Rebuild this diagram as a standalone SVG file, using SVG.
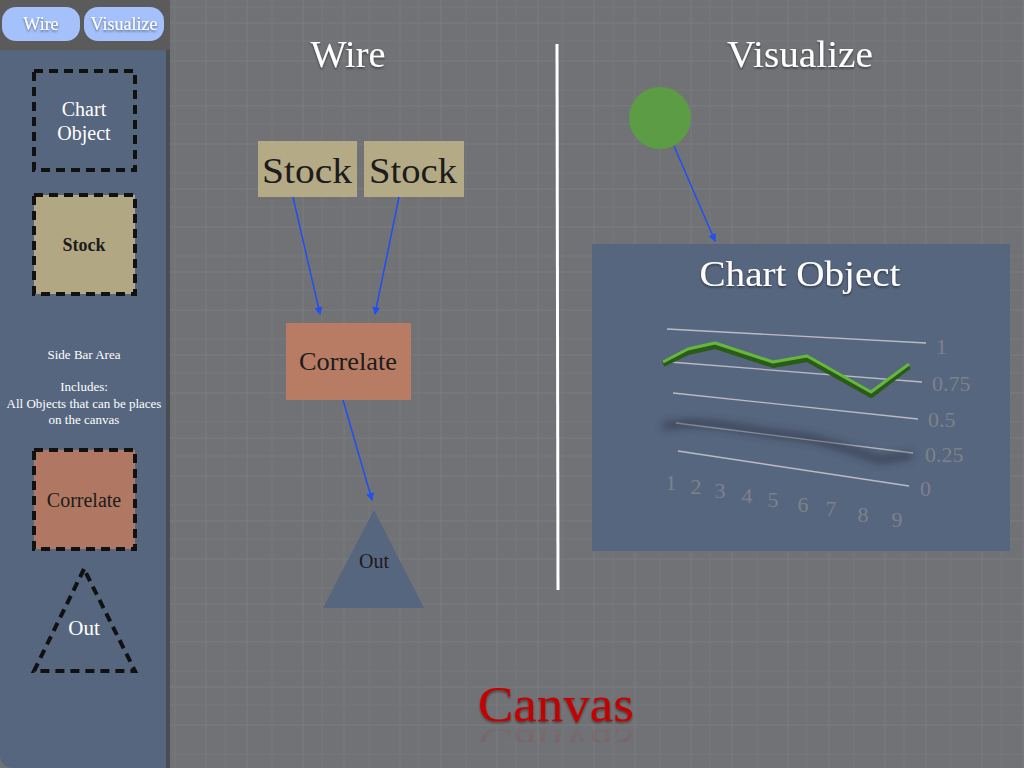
<svg xmlns="http://www.w3.org/2000/svg" width="1024" height="768" viewBox="0 0 1024 768">
<defs>
<style>
.serif{font-family:"Liberation Serif","DejaVu Serif",serif;}
.white{fill:#ffffff;}
.dark{fill:#1c1c1c;}
.dash{stroke:#111111;stroke-width:4;stroke-dasharray:9,6;}
.conn{stroke:#1f4ff5;stroke-width:1.5;fill:none;marker-end:url(#arr);}
.grid{stroke:#b8bcc2;stroke-width:1.3;}
.axis{fill:#7d8289;font-size:22px;}
</style>
<marker id="arr" markerWidth="8" markerHeight="8" refX="7" refY="4" orient="auto" markerUnits="userSpaceOnUse">
<path d="M0,0 L8,4 L0,8 z" fill="#1f4ff5"/>
</marker>
<filter id="ts" x="-10%" y="-10%" width="120%" height="140%">
<feDropShadow dx="0" dy="1.5" stdDeviation="1.2" flood-color="#000" flood-opacity="0.5"/>
</filter>
<filter id="blur" x="-20%" y="-50%" width="140%" height="200%">
<feGaussianBlur stdDeviation="4"/>
</filter>
<linearGradient id="fade" x1="0" y1="0" x2="0" y2="1">
<stop offset="0" stop-color="#c00000" stop-opacity="0.4"/>
<stop offset="1" stop-color="#c00000" stop-opacity="0"/>
</linearGradient>
<clipPath id="reflclip"><rect x="400" y="726" width="300" height="16"/></clipPath>
<pattern id="tex" width="97" height="83" patternUnits="userSpaceOnUse">
<rect width="97" height="83" fill="#707275"/>
<path d="M12 0V83M53 0V83M0 23H97M0 61H97" stroke="#797b7e" stroke-width="1"/>
<path d="M31 0V83M78 0V83M0 41H97M0 7H97" stroke="#757779" stroke-width="1"/>
</pattern>
</defs>

<rect x="0" y="0" width="1024" height="768" fill="url(#tex)"/>

<g id="sidebar">
<rect x="0" y="0" width="170" height="50" fill="#5b5b5b"/>
<path d="M0 50 H166 V768 H14 Q0 768 0 754 Z" fill="#57667f"/>
<rect x="166" y="50" width="4" height="718" fill="#4a4d52"/>
</g>

<g id="btn-wire">
<rect x="2" y="7" width="78" height="34" rx="14" fill="#a5c1fb"/>
<text x="41" y="30" text-anchor="middle" class="serif white" font-size="18" filter="url(#ts)">Wire</text>
</g>
<g id="btn-visualize">
<rect x="84" y="7" width="80" height="34" rx="14" fill="#a5c1fb"/>
<text x="124" y="30" text-anchor="middle" class="serif white" font-size="18" filter="url(#ts)">Visualize</text>
</g>

<g id="side-chart-object">
<rect x="34" y="71" width="101" height="99" fill="none" class="dash"/>
<text x="84" y="116" text-anchor="middle" class="serif white" font-size="20">Chart</text>
<text x="84" y="140" text-anchor="middle" class="serif white" font-size="20">Object</text>
</g>
<g id="side-stock">
<rect x="34" y="195" width="101" height="99" fill="#b2a783" class="dash"/>
<text x="84" y="251" text-anchor="middle" class="serif dark" font-size="18" font-weight="bold">Stock</text>
</g>
<g id="side-text">
<text x="84" y="359" text-anchor="middle" class="serif white" font-size="13">Side Bar Area</text>
<text x="84" y="391" text-anchor="middle" class="serif white" font-size="13">Includes:</text>
<text x="84" y="408" text-anchor="middle" class="serif white" font-size="13">All Objects that can be places</text>
<text x="84" y="424" text-anchor="middle" class="serif white" font-size="13">on the canvas</text>
</g>
<g id="side-correlate">
<rect x="34" y="450" width="101" height="99" fill="#b07862" class="dash"/>
<text x="84" y="507" text-anchor="middle" class="serif dark" font-size="20">Correlate</text>
</g>
<g id="side-out">
<polygon points="84,569 34,671 135,671" fill="none" class="dash"/>
<text x="84" y="635" text-anchor="middle" class="serif white" font-size="21">Out</text>
</g>

<g id="titles">
<text x="348" y="67" text-anchor="middle" class="serif white" font-size="37" textLength="75" lengthAdjust="spacingAndGlyphs" filter="url(#ts)">Wire</text>
<text x="800" y="67" text-anchor="middle" class="serif white" font-size="37" textLength="146" lengthAdjust="spacingAndGlyphs" filter="url(#ts)">Visualize</text>
<line x1="557" y1="44" x2="558" y2="590" stroke="#ffffff" stroke-width="3"/>
</g>

<g id="stock1">
<rect x="258" y="141" width="99" height="56" fill="#b5aa86"/>
<text x="307" y="183" text-anchor="middle" class="serif dark" font-size="36" textLength="90" lengthAdjust="spacingAndGlyphs">Stock</text>
</g>
<g id="stock2">
<rect x="364" y="141" width="100" height="56" fill="#b5aa86"/>
<text x="413" y="183" text-anchor="middle" class="serif dark" font-size="36" textLength="88" lengthAdjust="spacingAndGlyphs">Stock</text>
</g>
<g id="correlate">
<rect x="286" y="323" width="125" height="77" fill="#b87b63"/>
<text x="348" y="370" text-anchor="middle" class="serif dark" font-size="25" textLength="98" lengthAdjust="spacingAndGlyphs">Correlate</text>
</g>
<g id="out">
<polygon points="374,510 323,608 424,608" fill="#57667f"/>
<text x="374" y="568" text-anchor="middle" class="serif dark" font-size="20">Out</text>
</g>

<g id="dot">
<circle cx="660" cy="118" r="31" fill="#5c9c44"/>
</g>

<g id="chart-object">
<rect x="592" y="244" width="418" height="307" fill="#57667f"/>
<text x="800" y="286" text-anchor="middle" class="serif white" font-size="36" textLength="201" lengthAdjust="spacingAndGlyphs" filter="url(#ts)">Chart Object</text>
<line x1="667" y1="329" x2="926" y2="343" class="grid"/>
<line x1="670" y1="362" x2="922" y2="382" class="grid"/>
<line x1="673" y1="393" x2="918" y2="419" class="grid"/>
<line x1="676" y1="423" x2="913" y2="453" class="grid"/>
<line x1="678" y1="451" x2="909" y2="486" class="grid"/>
<polyline points="663,426 690,423 720,425 770,433 810,438 845,448 880,460 912,455" fill="none" stroke="#2b3242" stroke-width="6" opacity="0.8" filter="url(#blur)"/>
<polyline points="663,364 688,352 715,346 773,365 807,359 871,395 909,366" fill="none" stroke="#2c5a18" stroke-width="6" stroke-linejoin="round"/>
<polyline points="663,362 688,349 715,343 773,362 807,356 871,392 909,364" fill="none" stroke="#64b83c" stroke-width="3" stroke-linejoin="round"/>
<text x="936" y="354" class="serif axis">1</text>
<text x="932" y="391" class="serif axis">0.75</text>
<text x="928" y="427" class="serif axis">0.5</text>
<text x="925" y="462" class="serif axis">0.25</text>
<text x="920" y="496" class="serif axis">0</text>
<text x="671" y="490" text-anchor="middle" class="serif axis">1</text>
<text x="696" y="494" text-anchor="middle" class="serif axis">2</text>
<text x="720" y="498" text-anchor="middle" class="serif axis">3</text>
<text x="747" y="503" text-anchor="middle" class="serif axis">4</text>
<text x="773" y="507" text-anchor="middle" class="serif axis">5</text>
<text x="803" y="512" text-anchor="middle" class="serif axis">6</text>
<text x="831" y="516" text-anchor="middle" class="serif axis">7</text>
<text x="863" y="522" text-anchor="middle" class="serif axis">8</text>
<text x="897" y="527" text-anchor="middle" class="serif axis">9</text>
</g>

<g id="connectors">
<line x1="293" y1="197" x2="320" y2="314" class="conn"/>
<line x1="399" y1="197" x2="375" y2="314" class="conn"/>
<line x1="343" y1="400" x2="372" y2="500" class="conn"/>
<line x1="674" y1="146" x2="715" y2="241" class="conn"/>
</g>

<g id="canvas-label">
<text x="556" y="721" text-anchor="middle" class="serif" font-size="50" textLength="156" lengthAdjust="spacingAndGlyphs" fill="#c40000" filter="url(#ts)">Canvas</text>
<g clip-path="url(#reflclip)">
<text x="556" y="721" text-anchor="middle" class="serif" font-size="50" textLength="156" lengthAdjust="spacingAndGlyphs" fill="url(#fade)" transform="translate(0,1450) scale(1,-1)" opacity="0.6">Canvas</text>
</g>
</g>
</svg>
